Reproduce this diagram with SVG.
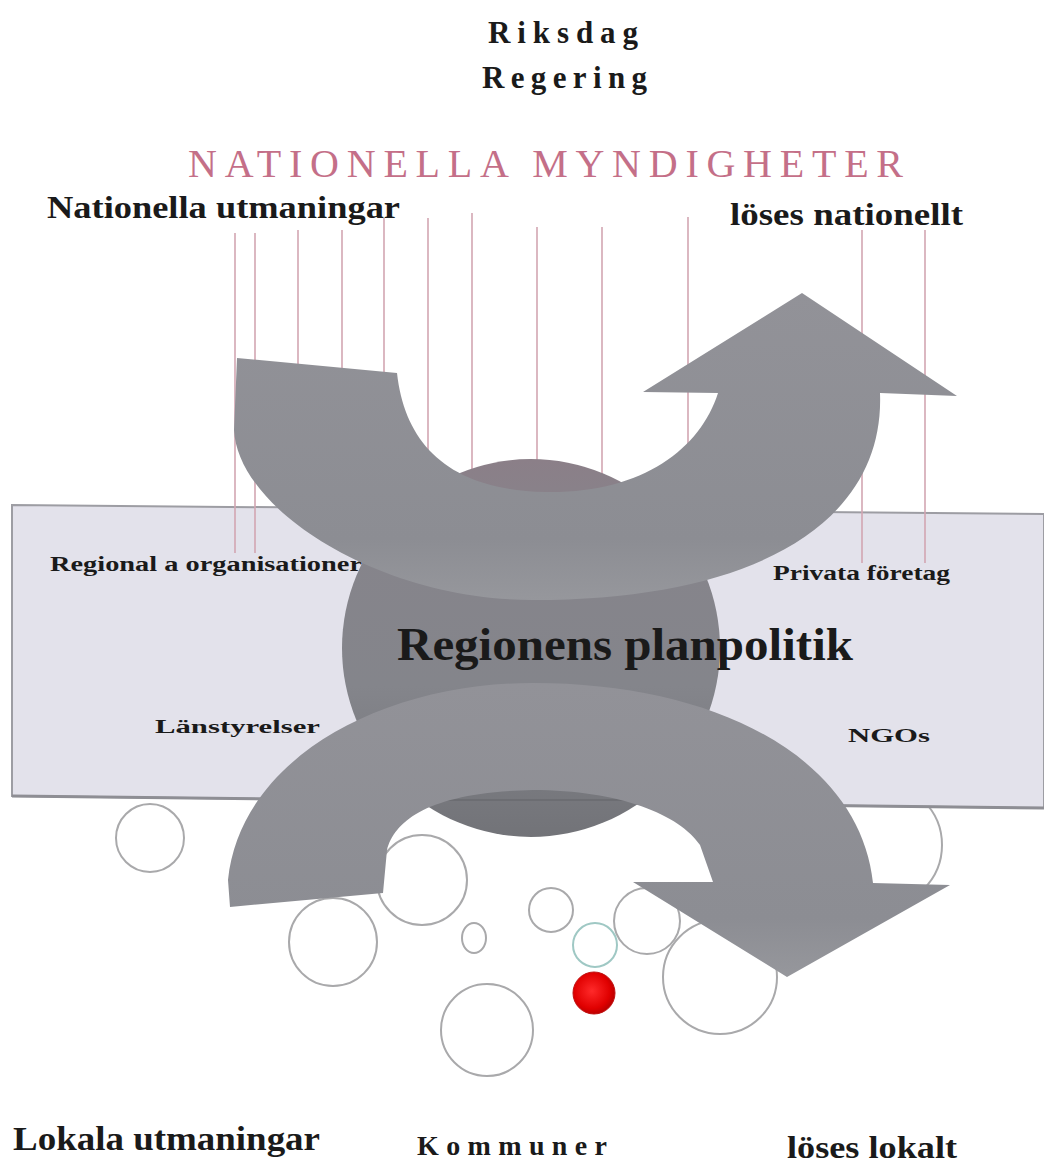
<svg xmlns="http://www.w3.org/2000/svg" width="1044" height="1164" viewBox="0 0 1044 1164">
<defs>
<style>
.t{font-family:"Liberation Serif","Times New Roman",serif;font-weight:bold;fill:#1a1a1a}
.pk{stroke:#d2a6b2;stroke-width:1.6;fill:none}
.bub{fill:none;stroke:#a9a9ab;stroke-width:2}
.arr{fill:url(#ga)}
</style>
<linearGradient id="ga" x1="0" y1="0" x2="0" y2="1">
<stop offset="0" stop-color="#929298"/>
<stop offset="0.8" stop-color="#8c8d93"/>
<stop offset="1" stop-color="#96979c"/>
</linearGradient>
<linearGradient id="gc" x1="0" y1="0" x2="0" y2="1">
<stop offset="0" stop-color="#8b7f88"/>
<stop offset="0.2" stop-color="#86848b"/>
<stop offset="0.6" stop-color="#84858b"/>
<stop offset="1" stop-color="#727378"/>
</linearGradient>
<radialGradient id="gr" cx="0.45" cy="0.45" r="0.6">
<stop offset="0" stop-color="#ff2a2a"/>
<stop offset="0.7" stop-color="#e00000"/>
<stop offset="1" stop-color="#b00000"/>
</radialGradient>
</defs>
<rect width="1044" height="1164" fill="#ffffff"/>

<g id="bubbles">
<circle class="bub" cx="150" cy="838" r="34"/>
<circle class="bub" cx="422" cy="880" r="45"/>
<circle class="bub" cx="333" cy="942" r="44"/>
<ellipse class="bub" cx="474" cy="938" rx="12" ry="15"/>
<circle class="bub" cx="551" cy="910" r="22"/>
<circle cx="595" cy="945" r="22" fill="none" stroke="#9fc8c4" stroke-width="2"/>
<circle cx="594" cy="993" r="21" fill="url(#gr)" stroke="#c01010" stroke-width="1"/>
<circle class="bub" cx="647" cy="921" r="33"/>
<circle class="bub" cx="720" cy="977" r="57"/>
<circle class="bub" cx="880" cy="845" r="62"/>
<circle class="bub" cx="487" cy="1030" r="46"/>
</g>

<g id="band">
<polygon points="12,505 1044,514 1044,808 12,796" fill="#e3e2eb" stroke="#9d9da3" stroke-width="2"/>
<line x1="12" y1="796" x2="1044" y2="808" stroke="#8e8e94" stroke-width="3"/>
</g>

<g id="connectors">
<line class="pk" x1="235" y1="233" x2="235" y2="553"/>
<line class="pk" x1="255" y1="233" x2="255" y2="553"/>
<line class="pk" x1="298" y1="230" x2="298" y2="480"/>
<line class="pk" x1="342" y1="230" x2="342" y2="480"/>
<line class="pk" x1="384" y1="218" x2="384" y2="480"/>
<line class="pk" x1="428" y1="218" x2="428" y2="480"/>
<line class="pk" x1="472" y1="213" x2="472" y2="480"/>
<line class="pk" x1="537" y1="227" x2="537" y2="480"/>
<line class="pk" x1="602" y1="227" x2="602" y2="480"/>
<line class="pk" x1="688" y1="217" x2="688" y2="480"/>
<line class="pk" x1="862" y1="230" x2="862" y2="563"/>
<line class="pk" x1="925" y1="230" x2="925" y2="563"/>
</g>

<g id="band-labels">
<text class="t" x="50" y="571" font-size="20" textLength="312" lengthAdjust="spacingAndGlyphs">Regional a organisationer</text>
<text class="t" x="773" y="580" font-size="20" textLength="177" lengthAdjust="spacingAndGlyphs">Privata företag</text>
<text class="t" x="155" y="733" font-size="18" textLength="165" lengthAdjust="spacingAndGlyphs">Länstyrelser</text>
<text class="t" x="848" y="742" font-size="18" textLength="82" lengthAdjust="spacingAndGlyphs">NGOs</text>
</g>

<g id="core">
<circle cx="531" cy="648" r="189" fill="url(#gc)"/>
<line x1="440" y1="800" x2="630" y2="800" stroke="#66676c" stroke-width="2" opacity="0.6"/>
</g>

<g id="arrow-up">
<path class="arr" d="M237,358 L397,373 C405,445 450,490 545,492 C640,494 700,450 718,393 L643,392 L802,293 L957,396 L880,393 C885,520 760,600 533,600 C380,600 238,510 234,430 Z"/>
</g>

<g id="arrow-down">
<path class="arr" d="M230,907 L383,893 L387,850 C395,820 430,792 533,790 C620,790 680,815 700,845 L713,882 L633,882 L787,977 L950,885 L873,883 C860,760 720,683 533,683 C380,683 240,760 228,880 Z"/>
</g>

<g id="center-label">
<text class="t" x="397" y="660" font-size="46" textLength="456" lengthAdjust="spacingAndGlyphs">Regionens planpolitik</text>
</g>

<g id="top-labels">
<text class="t" x="488" y="43" font-size="31" textLength="150" lengthAdjust="spacing">Riksdag</text>
<text class="t" x="482" y="88" font-size="31" textLength="165" lengthAdjust="spacing">Regering</text>
<text x="188" y="177" font-family="Liberation Serif,Times New Roman,serif" font-size="40" fill="#c46f88" textLength="715" lengthAdjust="spacing">NATIONELLA MYNDIGHETER</text>
<text class="t" x="47" y="218" font-size="32" textLength="353" lengthAdjust="spacingAndGlyphs">Nationella utmaningar</text>
<text class="t" x="730" y="225" font-size="32" textLength="233" lengthAdjust="spacingAndGlyphs">löses nationellt</text>
</g>

<g id="bottom-labels">
<text class="t" x="13" y="1150" font-size="34" textLength="307" lengthAdjust="spacingAndGlyphs">Lokala utmaningar</text>
<text class="t" x="417" y="1155" font-size="28" textLength="190" lengthAdjust="spacing">Kommuner</text>
<text class="t" x="787" y="1158" font-size="32" textLength="170" lengthAdjust="spacingAndGlyphs">löses lokalt</text>
</g>
</svg>
